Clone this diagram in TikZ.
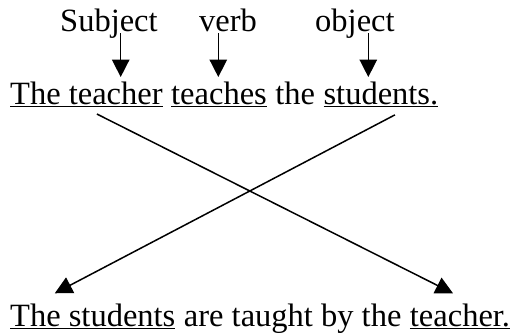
\documentclass[tikz,border=0pt]{standalone}
\usepackage{fontspec}
\setmainfont{Liberation Serif}
\usetikzlibrary{arrows.meta,positioning}
\tikzset{
  word/.style={inner sep=0pt, font=\fontsize{32.5}{39}\selectfont},
  pointer/.style={line width=1.5pt, -{Triangle[length=0.610cm, width=0.610cm]}}
}
\begin{document}
\begin{tikzpicture}[node distance=0.286cm]
\useasboundingbox (0,0) rectangle (18.170,11.774);
\begin{scope}[shift={(0.000,0.000)}]
\node[word, anchor=base west] (teacher) at (0.351,8.101) {\underline{The teacher}};
\node[word, base right=of teacher] (teaches) {\underline{teaches}};
\node[word, base right=of teaches] (the) {the};
\node[word, base right=of the] (students) {\underline{students.}};
\node[word, anchor=base west] (passive) at (0.351,0.316) {\underline{The students}};
\node[word, base right=of passive] (rest) {are taught by the};
\node[word, base right=of rest] (agent) {\underline{teacher.}};
\node[word, anchor=base west] (subject) at (2.109,10.684) {Subject};
\node[word, anchor=base west] (verb) at (6.994,10.684) {verb};
\node[word, anchor=base west] (object) at (11.071,10.684) {object};
\coordinate (tipS) at (4.242,9.067);
\coordinate (tipV) at (7.672,9.067);
\coordinate (tipO) at (12.944,9.067);
\draw[pointer] ([yshift=-0.070cm]subject.base -| tipS) -- (tipS);
\draw[pointer] ([yshift=-0.070cm]verb.base -| tipV) -- (tipV);
\draw[pointer] ([yshift=-0.070cm]object.base -| tipO) -- (tipO);
\draw[pointer] ([shift={(0.369,-0.246)}]teacher.south) -- ([shift={(-0.246,0.351)}]agent.north);
\draw[pointer] ([shift={(0.492,-0.271)}]students.south) -- ([shift={(-1.335,0.351)}]passive.north);
\end{scope}
\end{tikzpicture}
\end{document}
